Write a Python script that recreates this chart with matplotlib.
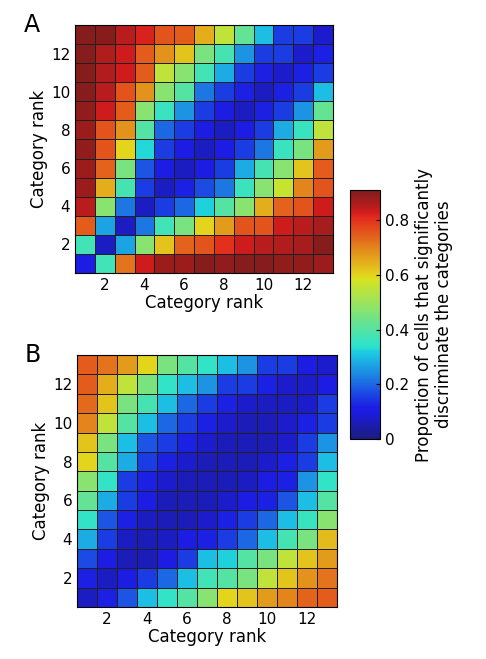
import matplotlib.pyplot as plt
import numpy as np
from matplotlib.colors import ListedColormap

ranks = np.arange(1, 14)
tick_ranks = [2, 4, 6, 8, 10, 12]

# rows listed top (rank 13) to bottom (rank 1)
panel_a = [
    [0.90, 0.90, 0.85, 0.82, 0.76, 0.75, 0.65, 0.55, 0.42, 0.30, 0.15, 0.15, 0.08],
    [0.90, 0.86, 0.83, 0.75, 0.68, 0.62, 0.45, 0.38, 0.25, 0.15, 0.15, 0.08, 0.12],
    [0.90, 0.86, 0.83, 0.75, 0.55, 0.47, 0.37, 0.28, 0.15, 0.12, 0.08, 0.12, 0.15],
    [0.90, 0.85, 0.76, 0.68, 0.47, 0.40, 0.22, 0.15, 0.12, 0.07, 0.12, 0.15, 0.30],
    [0.89, 0.83, 0.75, 0.47, 0.36, 0.25, 0.15, 0.10, 0.07, 0.12, 0.15, 0.25, 0.42],
    [0.88, 0.76, 0.68, 0.40, 0.20, 0.15, 0.10, 0.07, 0.10, 0.15, 0.28, 0.36, 0.55],
    [0.89, 0.76, 0.60, 0.33, 0.15, 0.10, 0.07, 0.10, 0.15, 0.22, 0.36, 0.45, 0.67],
    [0.88, 0.74, 0.45, 0.18, 0.10, 0.07, 0.10, 0.15, 0.28, 0.38, 0.47, 0.62, 0.75],
    [0.88, 0.65, 0.38, 0.15, 0.07, 0.12, 0.17, 0.22, 0.36, 0.47, 0.56, 0.70, 0.76],
    [0.85, 0.47, 0.22, 0.07, 0.15, 0.20, 0.32, 0.40, 0.47, 0.65, 0.74, 0.76, 0.83],
    [0.75, 0.27, 0.07, 0.22, 0.37, 0.45, 0.60, 0.67, 0.76, 0.76, 0.83, 0.85, 0.87],
    [0.37, 0.07, 0.27, 0.47, 0.62, 0.74, 0.76, 0.80, 0.83, 0.85, 0.86, 0.87, 0.90],
    [0.10, 0.37, 0.72, 0.83, 0.88, 0.88, 0.90, 0.89, 0.90, 0.90, 0.89, 0.89, 0.88],
]

panel_b = [
    [0.75, 0.72, 0.67, 0.60, 0.45, 0.40, 0.35, 0.30, 0.25, 0.15, 0.15, 0.10, 0.08],
    [0.75, 0.65, 0.55, 0.45, 0.35, 0.30, 0.25, 0.15, 0.15, 0.12, 0.08, 0.08, 0.10],
    [0.73, 0.62, 0.45, 0.38, 0.30, 0.20, 0.15, 0.12, 0.08, 0.07, 0.07, 0.08, 0.15],
    [0.70, 0.55, 0.40, 0.30, 0.20, 0.15, 0.12, 0.08, 0.06, 0.06, 0.08, 0.12, 0.15],
    [0.62, 0.45, 0.30, 0.18, 0.15, 0.12, 0.08, 0.06, 0.06, 0.06, 0.08, 0.15, 0.25],
    [0.60, 0.40, 0.28, 0.15, 0.12, 0.08, 0.06, 0.06, 0.06, 0.08, 0.12, 0.15, 0.30],
    [0.47, 0.35, 0.15, 0.12, 0.08, 0.06, 0.06, 0.06, 0.07, 0.10, 0.12, 0.25, 0.35],
    [0.42, 0.28, 0.15, 0.10, 0.06, 0.06, 0.06, 0.08, 0.10, 0.12, 0.18, 0.30, 0.40],
    [0.35, 0.18, 0.12, 0.07, 0.06, 0.06, 0.08, 0.12, 0.15, 0.20, 0.30, 0.36, 0.47],
    [0.28, 0.15, 0.07, 0.06, 0.07, 0.10, 0.12, 0.15, 0.20, 0.30, 0.38, 0.45, 0.63],
    [0.17, 0.10, 0.06, 0.06, 0.10, 0.15, 0.30, 0.32, 0.40, 0.45, 0.55, 0.62, 0.67],
    [0.12, 0.07, 0.10, 0.15, 0.20, 0.30, 0.37, 0.40, 0.45, 0.55, 0.62, 0.68, 0.72],
    [0.07, 0.12, 0.18, 0.30, 0.35, 0.40, 0.47, 0.60, 0.62, 0.67, 0.70, 0.74, 0.75],
]

VMIN, VMAX = 0.0, 0.91
W, H = 486, 659

# jet, a little washed out like the printed figure
jet = plt.get_cmap('jet')(np.linspace(0, 1, 256))[:, :3]
muted = jet * 0.78 + 0.11
cmap = ListedColormap(muted)

fig = plt.figure(figsize=(W / 100, H / 100), dpi=100)


def px_axes(x0, y0, x1, y1):
    return fig.add_axes([x0 / W, 1 - y1 / H, (x1 - x0) / W, (y1 - y0) / H])


def draw_panel(ax, data, letter):
    edges = np.arange(0.5, 14.5, 1)
    mesh = ax.pcolormesh(edges, edges, np.array(data)[::-1], cmap=cmap,
                         vmin=VMIN, vmax=VMAX, edgecolors='#202020', linewidth=0.6)
    ax.set_xlim(0.5, 13.5)
    ax.set_ylim(0.5, 13.5)
    ax.set_xticks(tick_ranks)
    ax.set_yticks(tick_ranks)
    ax.tick_params(labelsize=11, length=0)
    ax.set_xlabel("Category rank", fontsize=12, labelpad=1)
    ax.set_ylabel("Category rank", fontsize=12, labelpad=2)
    ax.text(-0.2, 1.0, letter, transform=ax.transAxes, fontsize=17,
            ha='left', va='center')
    return mesh


ax_a = px_axes(75, 25, 333, 273)
mesh = draw_panel(ax_a, panel_a, "A")
ax_b = px_axes(77, 355, 337, 607)
draw_panel(ax_b, panel_b, "B")

cax = px_axes(350, 190, 380, 439)
cb = fig.colorbar(mesh, cax=cax, ticks=[0, 0.2, 0.4, 0.6, 0.8])
cb.ax.set_yticklabels(["0", "0.2", "0.4", "0.6", "0.8"])
cb.ax.tick_params(labelsize=11, direction='in', length=3)
cb.set_label("Proportion of cells that significantly\ndiscriminate the categories",
             fontsize=12, labelpad=4)

fig.savefig("out.png", dpi=100)
